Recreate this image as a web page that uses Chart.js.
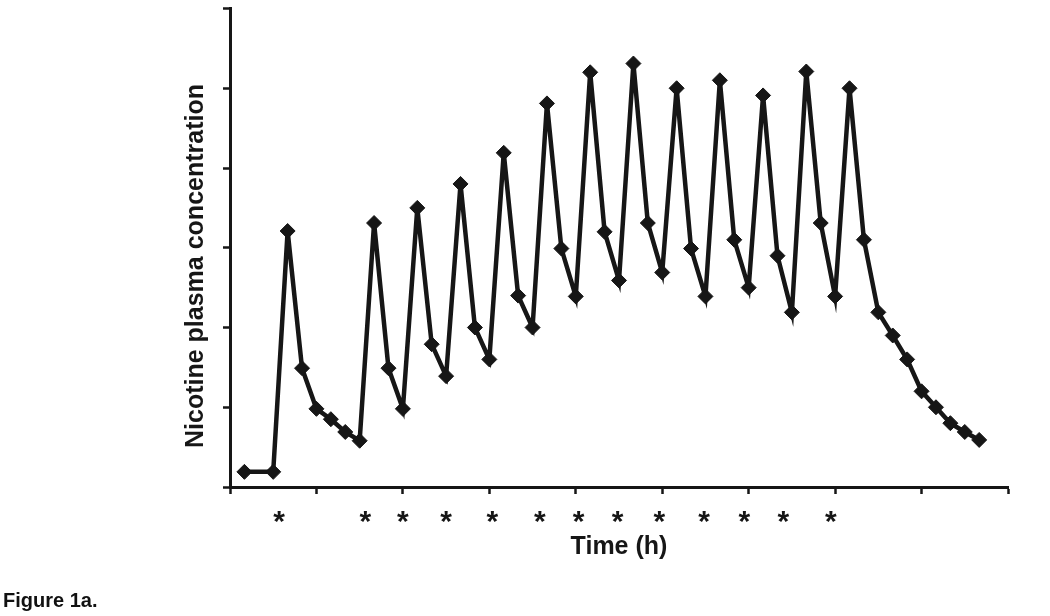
<!DOCTYPE html>
<html>
<head>
<meta charset="utf-8">
<script src="https://cdn.jsdelivr.net/npm/chart.js@4.4.1/dist/chart.umd.min.js"></script>
<style>
  html, body { margin: 0; padding: 0; background: #fff; }
  #wrap { position: relative; width: 1050px; height: 616px; }
  #caption { position: absolute; left: 3px; top: 590px; font: bold 20px "Liberation Sans", Arial, sans-serif; line-height: 20px; color: #111; }
</style>
</head>
<body>
<div id="wrap">
  <canvas id="c" width="1050" height="616"></canvas>
  <div id="caption">Figure 1a.</div>
</div>
<script>
// Sampling times (minutes)
const timeMinutes = [10, 30, 40, 50, 60, 70, 80, 90, 100, 110, 120, 130, 140, 150, 160, 170, 180,
  190, 200, 210, 220, 230, 240, 250, 260, 270, 280, 290, 300, 310, 320, 330, 340, 350, 360,
  370, 380, 390, 400, 410, 420, 430, 440, 450, 460, 470, 480, 490, 500, 510, 520];
// Nicotine plasma concentration (arbitrary units)
const concentration = [0.19, 0.19, 3.21, 1.49, 0.98, 0.85, 0.69, 0.58, 3.31, 1.49, 0.98, 3.5,
  1.79, 1.39, 3.8, 2.0, 1.6, 4.19, 2.4, 2.0, 4.81, 2.99, 2.39, 5.2, 3.2, 2.59, 5.31, 3.31, 2.69,
  5.0, 2.99, 2.39, 5.1, 3.1, 2.5, 4.91, 2.9, 2.19, 5.21, 3.31, 2.39, 5.0, 3.1, 2.19, 1.9, 1.6,
  1.2, 1.0, 0.8, 0.69, 0.59];
// Positions of the asterisk markers below the time axis (minutes)
const asteriskMinutes = [34, 94, 120, 150, 182, 215, 242, 269, 298, 329, 357, 384, 417];
const asteriskLabel = '*';
const xTitle = 'Time (h)';
const yTitle = 'Nicotine plasma concentration';

const ink = '#161616';
const fontFamily = '"Liberation Sans", Arial, sans-serif';

const extraText = {
  id: 'extraText',
  afterDraw(chart) {
    const ctx = chart.ctx;
    const xs = chart.scales.x;
    ctx.save();
    ctx.fillStyle = ink;
    // asterisks
    ctx.font = 'bold 30px ' + fontFamily;
    ctx.textAlign = 'center';
    ctx.textBaseline = 'alphabetic';
    const m = ctx.measureText(asteriskLabel);
    const yc = 517;
    const yDraw = yc + (m.actualBoundingBoxAscent - m.actualBoundingBoxDescent) / 2;
    asteriskMinutes.forEach(t => {
      ctx.fillText(asteriskLabel, xs.getPixelForValue(t), yDraw);
    });
    // y title
    ctx.font = 'bold 25px ' + fontFamily;
    ctx.translate(196, 266);
    ctx.rotate(-Math.PI / 2);
    ctx.textAlign = 'center';
    ctx.textBaseline = 'middle';
    ctx.fillText(yTitle, 0, 0);
    ctx.restore();
  }
};

new Chart(document.getElementById('c'), {
  type: 'line',
  data: {
    datasets: [{
      data: timeMinutes.map((t, i) => ({ x: t, y: concentration[i] })),
      borderColor: ink,
      backgroundColor: ink,
      borderWidth: 4.5,
      pointStyle: 'rectRot',
      pointRadius: 7.5,
      pointBorderWidth: 1,
      pointBorderColor: ink,
      pointBackgroundColor: ink,
      tension: 0,
      fill: false
    }]
  },
  options: {
    responsive: false,
    animation: false,
    layout: { padding: { left: 0, top: 7, right: 42, bottom: 0 } },
    plugins: { legend: { display: false }, tooltip: { enabled: false } },
    scales: {
      x: {
        type: 'linear',
        min: 0, max: 540,
        ticks: { stepSize: 60, display: false },
        grid: { display: true, drawOnChartArea: false, drawTicks: true, tickLength: 7, tickWidth: 2.5, tickColor: ink },
        border: { display: true, color: ink, width: 3 },
        title: { display: true, text: xTitle, color: ink, font: { family: fontFamily, size: 25, weight: 'bold' }, padding: { top: 0, bottom: 54 } },
        afterFit(scale) { scale.height = 129; }
      },
      y: {
        min: 0, max: 6,
        ticks: { stepSize: 1, display: false },
        grid: { display: true, drawOnChartArea: false, drawTicks: true, tickLength: 7, tickWidth: 2.5, tickColor: ink },
        border: { display: true, color: ink, width: 3 },
        afterFit(scale) { scale.width = 230; }
      }
    }
  },
  plugins: [extraText]
});
</script>
</body>
</html>
